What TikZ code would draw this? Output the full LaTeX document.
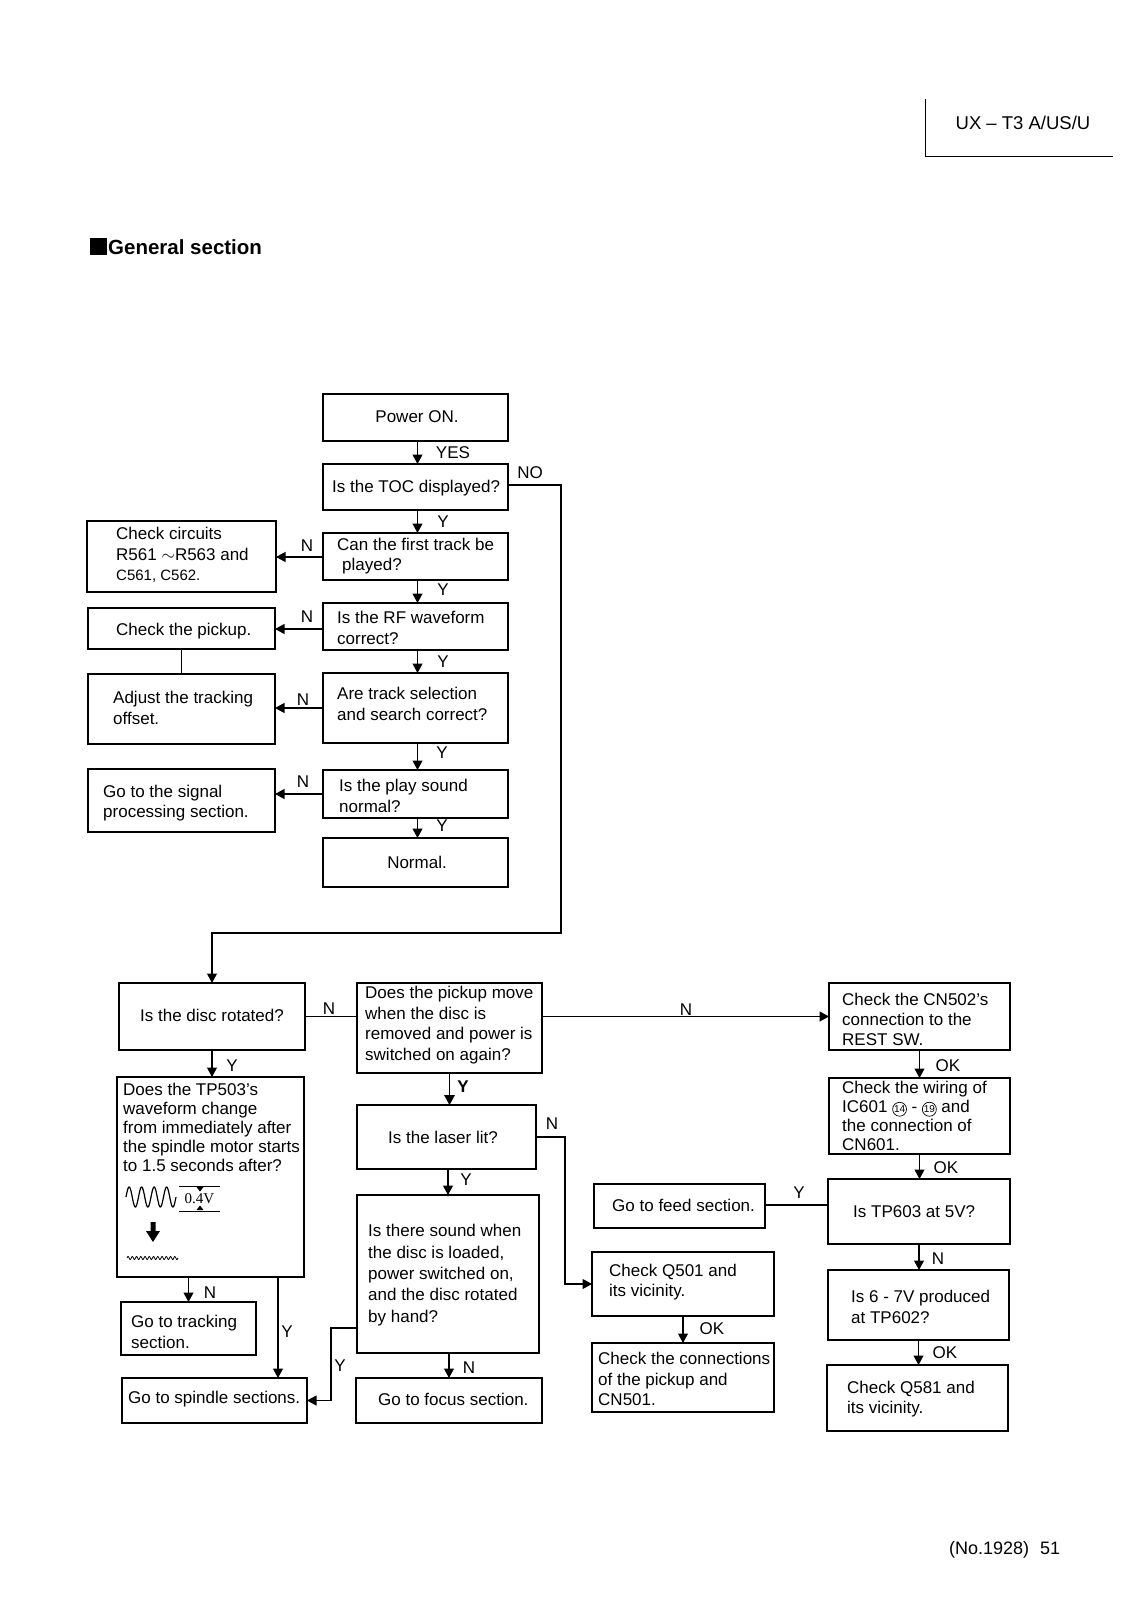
\documentclass[tikz,border=0pt]{standalone}
\usepackage{fontspec}
\setmainfont{Liberation Sans}
\newfontfamily\serifnum{Liberation Serif}
\usetikzlibrary{arrows.meta,calc}
\newcommand\cnum[1]{\tikz[baseline=(circN.base)]\node[draw,circle,inner sep=0.3pt,line width=0.7pt,font=\fontsize{10pt}{10pt}\selectfont](circN){#1};}
\newcommand\bx[5]{\node[box,minimum width={(#4-#2)*1pt},minimum height={(#5-#3)*1pt}] (#1) at ({(#2+#4)/2},{(#3+#5)/2}) {};}
\begin{document}
\begin{tikzpicture}[x=1pt,y=-1pt,
  box/.style={draw,rectangle,line width=1.2pt,inner sep=0pt,outer sep=0pt},
  txt/.style={font=\fontsize{17pt}{20.5pt}\selectfont,align=left,inner sep=0pt,anchor=west},
  lab/.style={font=\fontsize{17pt}{20pt}\selectfont,inner sep=0pt},
  arr/.style={line width=1.1pt,-{Triangle[length=9.5pt,width=10pt]}},
  ln/.style={line width=1.1pt}]
\useasboundingbox (0,0) rectangle (1131,1600);
% header
\coordinate (hA) at (925,99); \coordinate (hB) at (925,156); \coordinate (hC) at (1113,156);
\draw[line width=1pt] (hA) -- (hB) -- (hC);
\node[lab,font=\fontsize{18.5pt}{20pt}\selectfont] (model) at (1023,123) {UX – T3 A/US/U};
\node[fill=black,minimum size=17pt,inner sep=0pt] (sq) at (98.5,246.5) {};
\node[anchor=west,inner sep=0pt,font=\bfseries\fontsize{20.5pt}{22pt}\selectfont] (gs) at (108,247) {General section};
\node[anchor=west,inner sep=0pt,font=\fontsize{18pt}{20pt}\selectfont] (pg) at (949,1550) {(No.1928)\hspace{11pt}51};
% boxes
\bx{pw}{323}{394}{508}{441}
\bx{toc}{323}{464}{508}{510}
\bx{can}{323}{533}{508}{580}
\bx{cc}{87}{521}{276}{592}
\bx{rf}{323}{603}{508}{650}
\bx{pk}{88}{608}{275}{649}
\bx{tr}{323}{673}{508}{743}
\bx{adj}{88}{674}{275}{744}
\bx{ps}{323}{770}{508}{818}
\bx{sig}{88}{769}{275}{832}
\bx{nm}{323}{838}{508}{887}
\bx{dr}{119}{983}{305}{1050}
\bx{pm}{357}{983}{542}{1073}
\bx{tp}{117}{1077}{304}{1277}
\bx{lz}{357}{1105}{536}{1169}
\bx{sd}{357}{1195}{539}{1353}
\bx{trk}{121}{1302}{256}{1355}
\bx{sp}{122}{1378}{307}{1423}
\bx{fc}{356}{1378}{542}{1423}
\bx{cn}{829}{983}{1010}{1050}
\bx{wr}{829}{1078}{1010}{1154}
\bx{ts}{828}{1179}{1010}{1244}
\bx{fd}{594}{1184}{765}{1228}
\bx{qa}{592}{1252}{774}{1316}
\bx{cp}{592}{1343}{774}{1412}
\bx{sv}{828}{1270}{1009}{1340}
\bx{qb}{827}{1365}{1008}{1431}
% texts
\node[txt,anchor=center] (t1) at (417,417) {Power ON.};
\node[txt] (t2) at (332,488) {Is the TOC displayed?};
\node[txt] (t3) at (337,556) {Can the first track be\\\hspace{5pt}played?};
\node[txt] (t4) at (116,555) {Check circuits\\R561 $\sim$R563 and\\{\fontsize{15pt}{18pt}\selectfont C561, C562.}};
\node[txt] (t5) at (337,628) {Is the RF waveform\\correct?};
\node[txt] (t6) at (116,631) {Check the pickup.};
\node[txt] (t7) at (337,704) {Are track selection\\and search correct?};
\node[txt] (t8) at (113,708) {Adjust the tracking\\offset.};
\node[txt] (t9) at (339,796) {Is the play sound\\normal?};
\node[txt] (t10) at (103,803) {Go to the signal\\processing section.};
\node[txt,anchor=center] (t11) at (417,862) {Normal.};
\node[txt,anchor=center] (t12) at (212,1015) {Is the disc rotated?};
\node[txt] (t13) at (365,1025) {Does the pickup move\\when the disc is\\removed and power is\\switched on again?};
\node[txt,font=\fontsize{17pt}{19pt}\selectfont] (t14) at (123,1127) {Does the TP503's\\waveform change\\from immediately after\\the spindle motor starts\\to 1.5 seconds after?};
\node[txt,anchor=center] (t15) at (443,1137) {Is the laser lit?};
\node[txt,font=\fontsize{17pt}{21.3pt}\selectfont] (t16) at (368,1275) {Is there sound when\\the disc is loaded,\\power switched on,\\and the disc rotated\\by hand?};
\node[txt] (t17) at (131,1332) {Go to tracking\\section.};
\node[txt] (t18) at (128,1399) {Go to spindle sections.};
\node[txt] (t19) at (378,1399) {Go to focus section.};
\node[txt,font=\fontsize{17pt}{20pt}\selectfont] (t20) at (842,1019) {Check the CN502's\\connection to the\\REST SW.};
\node[txt,font=\fontsize{17pt}{18.8pt}\selectfont] (t21) at (842,1116) {Check the wiring of\\IC601 \cnum{14} - \cnum{19} and\\the connection of\\CN601.};
\node[txt] (t22) at (853,1212) {Is TP603 at 5V?};
\node[txt] (t23) at (612,1205) {Go to feed section.};
\node[txt] (t24) at (609,1282) {Check Q501 and\\its vicinity.};
\node[txt] (t25) at (598,1379) {Check the connections\\of the pickup and\\CN501.};
\node[txt] (t26) at (851,1307) {Is 6 - 7V produced\\at TP602?};
\node[txt] (t27) at (847,1399) {Check Q581 and\\its vicinity.};
% waveform sketch in TP503 box
\draw[line width=1.2pt] plot[domain=0:4,samples=100] ({126+12.5*\x},{1197-10*sin(\x*360)});
\draw[line width=0.9pt] (179,1186) -- (220,1186);
\draw[line width=0.9pt] (179,1211) -- (220,1211);
\fill (196.5,1187) -- (203.5,1187) -- (200,1191.5) -- cycle;
\fill (196.5,1210) -- (203.5,1210) -- (200,1205.5) -- cycle;
\node[inner sep=0pt,font=\serifnum\fontsize{15pt}{15pt}\selectfont] (volt) at (199.5,1199) {0.4V};
\fill (150.5,1222) -- (155.5,1222) -- (155.5,1231) -- (160,1231) -- (153,1242) -- (146,1231) -- (150.5,1231) -- cycle;
\draw[line width=0.8pt] plot[domain=0:12,samples=160] ({127+4.25*\x},{1258-1.5*sin(\x*360)});
% connectors main column
\draw[arr] ([xshift=2pt]pw.south) -- ([xshift=2pt]toc.north);
\draw[arr] ([xshift=2pt]toc.south) -- ([xshift=2pt]can.north);
\draw[arr] ([xshift=2pt]can.south) -- ([xshift=2pt]rf.north);
\draw[arr] ([xshift=2pt]rf.south) -- ([xshift=2pt]tr.north);
\draw[arr] ([xshift=2pt]tr.south) -- ([xshift=2pt]ps.north);
\draw[arr] ([xshift=2pt]ps.south) -- ([xshift=2pt]nm.north);
\draw[arr] ([yshift=-0.5pt]can.west) -- ([yshift=-0.5pt]can.west -| cc.east);
\draw[arr] ([yshift=-2.5pt]rf.west) -- ([yshift=-2.5pt]rf.west -| pk.east);
\draw[ln] (pk.south) -- (adj.north);
\draw[arr] (tr.west) -- (tr.west -| adj.east);
\draw[arr] (ps.west) -- (ps.west -| sig.east);
\coordinate (noA) at (561,933);
\draw[arr] ([yshift=2pt]toc.east) -| (noA) -| (dr.north);
\node[lab] (lYES) at (453,453) {YES};
\node[lab] (lNO) at (530,473) {NO};
\node[lab] (lY1) at (443,522) {Y};
\node[lab] (lY2) at (443,590) {Y};
\node[lab] (lY3) at (443,662) {Y};
\node[lab] (lY4) at (442,753) {Y};
\node[lab] (lY5) at (442,826) {Y};
\node[lab] (lN1) at (307,546) {N};
\node[lab] (lN2) at (307,617) {N};
\node[lab] (lN3) at (303,700) {N};
\node[lab] (lN4) at (303,782) {N};
% lower section
\draw[ln] (dr.east) -- (dr.east -| pm.west);
\draw[arr] (cn.west -| pm.east) -- (cn.west);
\draw[arr] (dr.south) -- (dr.south |- tp.north);
\draw[arr] (tp.south -| trk.north) -- (trk.north);
\draw[arr] ([xshift=-26pt]tp.south east) -- ([xshift=-26pt]tp.south east |- sp.north);
\draw[line width=1.6pt,-{Triangle[length=10pt,width=10.5pt]}] (lz.north -| pm.south) ++(0,-32) -- (lz.north -| pm.south);
\draw[arr] (lz.south -| sd.north) -- (sd.north);
\coordinate (lzA) at (565,1137);
\draw[arr] (lz.east) -- (lzA) |- (qa.west);
\coordinate (sdA) at (331,1328);
\draw[arr] (sdA -| sd.west) -- (sdA) |- (sp.east);
\draw[arr] (sd.south -| fc.north) -- (fc.north);
\draw[arr] (cn.south) -- (cn.south |- wr.north);
\draw[arr] (wr.south) -- (wr.south |- ts.north);
\draw[ln] ([yshift=1pt]fd.east) -- ([yshift=1pt]fd.east -| ts.west);
\draw[arr] (ts.south) -- (ts.south |- sv.north);
\draw[arr] (sv.south) -- (sv.south |- qb.north);
\draw[arr] (qa.south) -- (cp.north);
\node[lab] (lN5) at (329,1009) {N};
\node[lab] (lN6) at (686,1010) {N};
\node[lab] (lY6) at (232,1066) {Y};
\node[lab,font=\bfseries\fontsize{17pt}{20pt}\selectfont] (lY7) at (463,1087) {Y};
\node[lab] (lY8) at (466,1180) {Y};
\node[lab] (lN7) at (552,1124) {N};
\node[lab] (lN8) at (210,1293) {N};
\node[lab] (lY9) at (287,1332) {Y};
\node[lab] (lY10) at (340,1366) {Y};
\node[lab] (lN9) at (469,1368) {N};
\node[lab] (lOK1) at (948,1066) {OK};
\node[lab] (lOK2) at (946,1168) {OK};
\node[lab] (lY11) at (799,1193) {Y};
\node[lab] (lN10) at (938,1259) {N};
\node[lab] (lOK3) at (945,1353) {OK};
\node[lab] (lOK4) at (712,1329) {OK};
\end{tikzpicture}
\end{document}
